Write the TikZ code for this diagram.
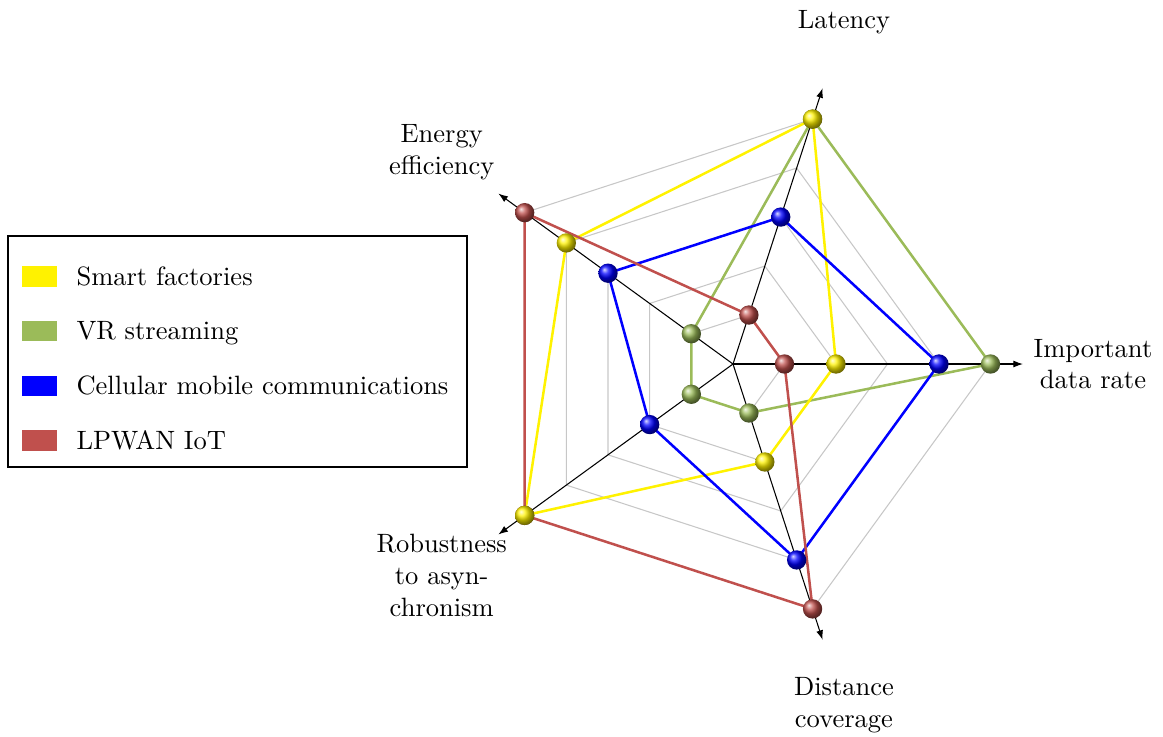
\documentclass[tikz,border=0pt]{standalone}
\usetikzlibrary{arrows.meta,shadings}
\definecolor{sfcol}{HTML}{FFF200}
\definecolor{vrcol}{HTML}{9BBB59}
\definecolor{cmcol}{HTML}{0000FF}
\definecolor{lpcol}{HTML}{C0504D}
\begin{document}
\begin{tikzpicture}[x=0.3774pt,y=0.3774pt,
  gridline/.style={draw=black!22, line width=0.4pt},
  axisline/.style={draw=black, line width=0.4pt, -{Latex[length=3.6pt,width=2.6pt]}},
  series/.style={draw=#1, line width=0.95pt, line join=round},
  ball/.style={circle, shading=ball, ball color=#1, minimum size=7.3pt, inner sep=0pt},
  axislabel/.style={align=center, inner sep=0pt},
  swatch/.style={fill=#1, minimum width=13.2pt, minimum height=7.9pt, inner sep=0pt},
  legtext/.style={anchor=base west, inner sep=0pt}]
\useasboundingbox (-733,-372) rectangle (430,364);
\def\u{51.5}
% grid
\foreach \r in {1,...,5}
  \draw[gridline] (0:\r*\u) -- (72:\r*\u) -- (144:\r*\u) -- (216:\r*\u) -- (288:\r*\u) -- cycle;
% axes
\coordinate (O) at (0,0);
\foreach \a/\n in {0/1,72/2,144/3,216/4,288/5}
  \coordinate (ax\n) at (\a:290);
\foreach \n in {1,...,5}
  \draw[axisline] (O) -- (ax\n);
% axis labels
\node[axislabel] (l1) at (0:360) {Important\\data rate};
\node[axislabel] (l2) at (72:359) {Latency};
\node[axislabel] (l3) at (144:360) {Energy\\efficiency};
\node[axislabel] (l4) at (216:360) {Robustness\\to asyn-\\chronism};
\node[axislabel] (l5) at (288:359) {Distance\\coverage};
% data points
\foreach \s/\va/\vb/\vc/\vd/\ve in {sf/2/5/4/5/2, vr/5/5/1/1/1, cm/4/3/3/2/4, lp/1/1/5/5/5}{
  \coordinate (\s1) at (0:\va*\u);
  \coordinate (\s2) at (72:\vb*\u);
  \coordinate (\s3) at (144:\vc*\u);
  \coordinate (\s4) at (216:\vd*\u);
  \coordinate (\s5) at (288:\ve*\u);
}
\draw[series=vrcol] (vr1) -- (vr2) -- (vr3) -- (vr4) -- (vr5) -- cycle;
\draw[series=sfcol] (sf1) -- (sf2) -- (sf3) -- (sf4) -- (sf5) -- cycle;
\draw[series=cmcol] (cm1) -- (cm2) -- (cm3) -- (cm4) -- (cm5) -- cycle;
\draw[series=lpcol] (lp1) -- (lp2) -- (lp3) -- (lp4) -- (lp5) -- cycle;
\foreach \s/\c in {vr/vrcol, lp/lpcol, cm/cmcol, sf/sfcol}
  \foreach \n in {1,...,5}
    \node[ball=\c] (\s\n b) at (\s\n) {};
% legend
\draw[line width=0.4pt] (-725,128) rectangle (-266,-103);
\node[swatch=sfcol] (sw1) at (-693.5,87.5) {};
\node[swatch=vrcol] (sw2) at (-693.5,33) {};
\node[swatch=cmcol] (sw3) at (-693.5,-22) {};
\node[swatch=lpcol] (sw4) at (-693.5,-76.5) {};
\node[legtext] (t1) at (-657,79) {Smart factories};
\node[legtext] (t2) at (-657,24.5) {VR streaming};
\node[legtext] (t3) at (-657,-30) {Cellular mobile communications};
\node[legtext] (t4) at (-657,-85.5) {LPWAN IoT};
\end{tikzpicture}
\end{document}
